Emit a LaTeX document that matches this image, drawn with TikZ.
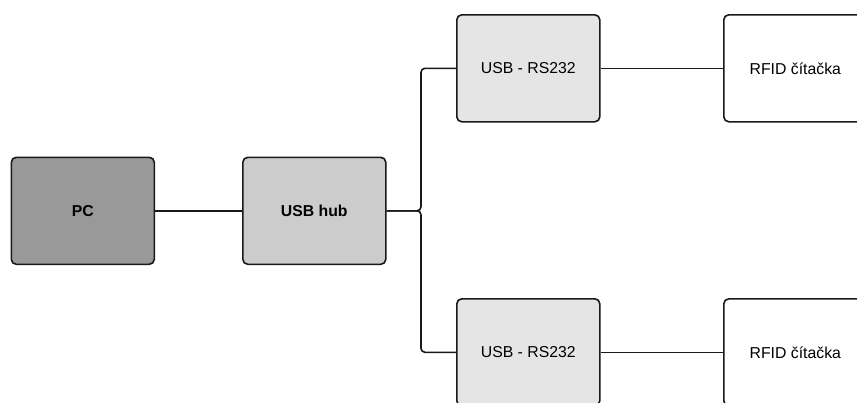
\documentclass[tikz,border=0pt]{standalone}
\usepackage{fontspec}
\setmainfont{Liberation Sans}
\begin{document}
\begin{tikzpicture}[x=1pt,y=-1pt,
  box/.style={draw=black!90, line width=1.6pt, rounded corners=5pt, minimum width=143pt, minimum height=107pt, inner sep=0pt, font=\fontsize{15.8}{18}\selectfont, anchor=north west},
  wire/.style={line width=1.6pt, draw=black!90, rounded corners=4pt}]
\useasboundingbox (0,0) rectangle (857,402);
\clip (0,0) rectangle (857,402);
\node[box, fill=black!40, font=\fontsize{15.8}{18}\selectfont\bfseries] (pc) at (10.5,156.5) {PC};
\node[box, fill=black!20, font=\fontsize{15.8}{18}\selectfont\bfseries] (hub) at (242,156.5) {USB hub};
\node[box, fill=black!10] (rs1) at (456,14) {USB - RS232};
\node[box, fill=white] (rf1) at (723,14) {RFID čítačka};
\node[box, fill=black!10] (rs2) at (456,298) {USB - RS232};
\node[box, fill=white] (rf2) at (723,298) {RFID čítačka};
\coordinate (j) at (421,0);
\draw[wire] (pc.east) -- (hub.west);
\draw[wire] (hub.east) -- (j |- hub.east) -- (j |- rs1.west) -- (rs1.west);
\draw[wire] (hub.east) -- (j |- hub.east) -- (j |- rs2.west) -- (rs2.west);
\draw[wire] (rs1.east) -- (rf1.west);
\draw[wire] (rs2.east) -- (rf2.west);
\end{tikzpicture}
\end{document}
